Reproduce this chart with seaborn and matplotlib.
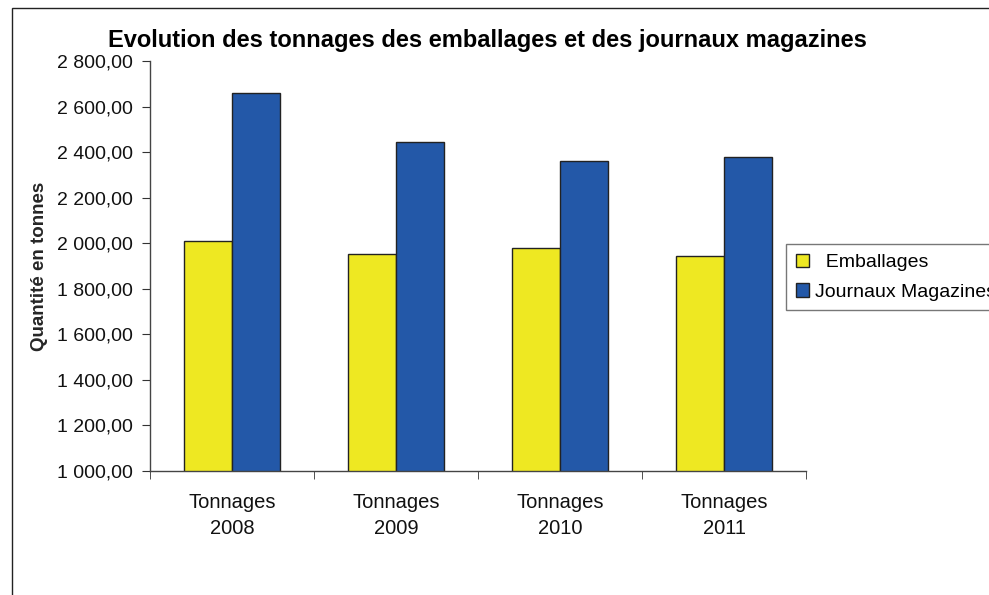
import pandas as pd
import numpy as np
import matplotlib.pyplot as plt
import seaborn as sns
from matplotlib.patches import Rectangle
from matplotlib.ticker import FuncFormatter

# Data
categories = ["Tonnages\n2008", "Tonnages\n2009", "Tonnages\n2010", "Tonnages\n2011"]
emballages = [2010, 1953, 1980, 1945]
journaux = [2660, 2445, 2363, 2377]
series = ["Emballages", "Journaux Magazines"]

df = pd.DataFrame({
    "annee": categories * 2,
    "tonnage": emballages + journaux,
    "type": [series[0]] * 4 + [series[1]] * 4,
})

sns.set_style("white")
plt.rcParams['font.family'] = ['Liberation Sans', 'DejaVu Sans']
plt.rcParams['text.color'] = 'black'
plt.rcParams['xtick.labelcolor'] = '#111111'
plt.rcParams['ytick.labelcolor'] = '#111111'

colors = ["#EEE822", "#2358A8"]

fig = plt.figure(figsize=(9.89, 5.95), dpi=100)
ax = fig.add_axes([150 / 989, 1 - 471 / 595, 656 / 989, 410 / 595])

sns.barplot(data=df, x="annee", y="tonnage", hue="type",
            palette=colors, saturation=1, width=0.59,
            edgecolor="#222222", linewidth=1, ax=ax, legend=False)

ax.set_ylim(1000, 2800)
ax.set_xlim(-0.5, 3.5)
ax.set_yticks(np.arange(1000, 2801, 200))
ax.yaxis.set_major_formatter(FuncFormatter(
    lambda v, p: f"{v:,.2f}".replace(",", " ").replace(".", ",")))
ax.tick_params(axis="y", which="major", direction="out", length=6, labelsize=14,
               left=True, color="#333333", pad=6)
ax.tick_params(axis="x", which="major", length=0, labelsize=14.5, pad=16)
for lbl in ax.get_xticklabels():
    lbl.set_linespacing(1.45)
ax.set_xticks(np.arange(-0.5, 4, 1), minor=True)
ax.tick_params(axis="x", which="minor", direction="out", length=6, bottom=True,
               color="#333333")
ax.set_xlabel("")
ax.set_ylabel("Quantité en tonnes", fontsize=13.5, fontweight="bold")
ax.yaxis.set_label_coords(-(150 - 48) / 656, 0.5)

for s in ["top", "right"]:
    ax.spines[s].set_visible(False)
for s in ["left", "bottom"]:
    ax.spines[s].set_color("#444444")
    ax.spines[s].set_linewidth(1)

fig.text(487 / 989, 1 - 40 / 595, "Evolution des tonnages des emballages et des journaux magazines",
         ha="center", va="center", fontsize=17, fontweight="bold")

handles = [Rectangle((0, 0), 1, 1, facecolor=c, edgecolor="#222222", linewidth=1)
           for c in colors]
leg = fig.legend(handles, ["  " + series[0], series[1]], loc="upper left",
                 bbox_to_anchor=(786 / 989, 1 - 244 / 595), fontsize=14,
                 frameon=True, fancybox=False, handlelength=0.7, handleheight=0.7,
                 handletextpad=0.3, borderpad=0.5, labelspacing=0.6,
                 borderaxespad=0)
leg.get_frame().set_edgecolor("#555555")
leg.get_frame().set_linewidth(1)

# outer chart frame
fig.patches.append(Rectangle((12 / 989, -0.1), 1.1, 1 - 8 / 595 + 0.1,
                             transform=fig.transFigure, fill=False,
                             edgecolor="#222222", linewidth=1))

fig.savefig("out.png", dpi=100)
